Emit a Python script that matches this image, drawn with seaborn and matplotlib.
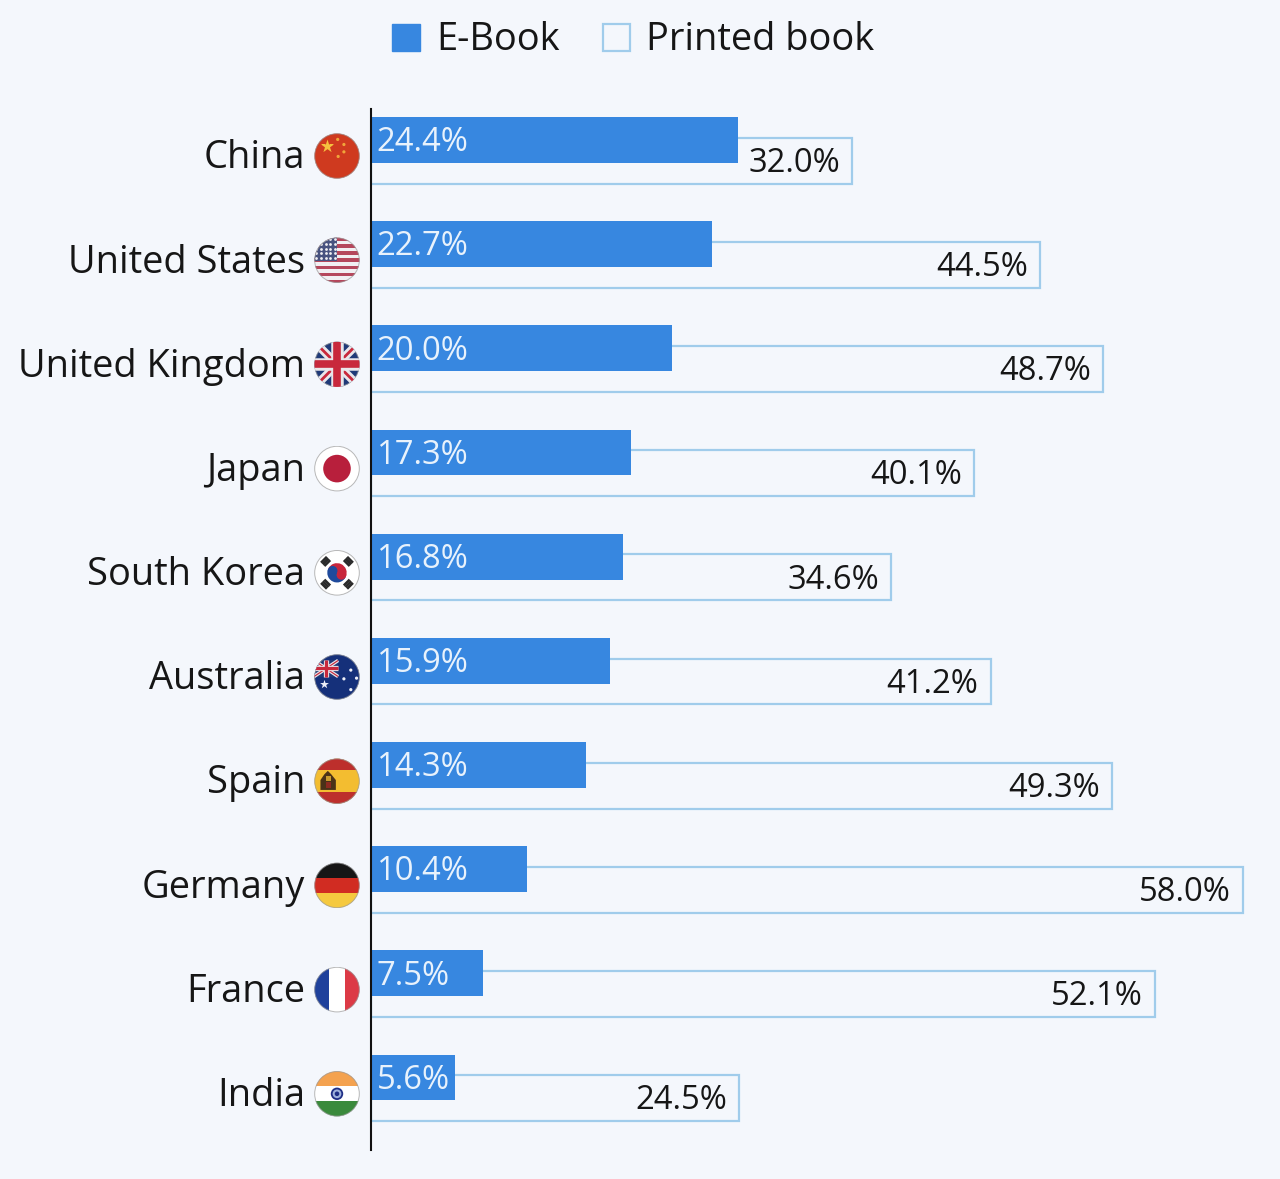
import numpy as np
import pandas as pd
import matplotlib
matplotlib.use("Agg")
import matplotlib.pyplot as plt
from matplotlib.patches import Rectangle, Circle, Wedge, Patch, Polygon
import seaborn as sns

countries = ["China", "United States", "United Kingdom", "Japan", "South Korea",
             "Australia", "Spain", "Germany", "France", "India"]
ebook = [24.4, 22.7, 20.0, 17.3, 16.8, 15.9, 14.3, 10.4, 7.5, 5.6]
printed = [32.0, 44.5, 48.7, 40.1, 34.6, 41.2, 49.3, 58.0, 52.1, 24.5]

BG = "#f4f7fc"
BLUE = "#3787e0"
EDGE = "#a0cceb"
INK = "#161616"
W, H = 1280, 1179

sns.set_theme(style="white", rc={"figure.facecolor": BG, "axes.facecolor": BG,
                                 "savefig.facecolor": BG})
plt.rcParams["font.family"] = ["Open Sans", "DejaVu Sans"]

fig = plt.figure(figsize=(W / 100, H / 100), dpi=100)
top, bottom, left = 109, 1150, 370.5
ax = fig.add_axes([left / W, 1 - bottom / H, (W - left) / W, (bottom - top) / H])

df = pd.DataFrame({"country": countries, "E-Book": ebook, "Printed book": printed})
sns.barplot(data=df, y="country", x="Printed book", orient="y", ax=ax, color=BG,
            saturation=1, width=0.44, edgecolor=EDGE, linewidth=1.6, zorder=2)
sns.barplot(data=df, y="country", x="E-Book", orient="y", ax=ax, color=BLUE,
            saturation=1, width=0.44, linewidth=0, zorder=3)

step = 104.17
shift = 10.3 / step
for bar in ax.containers[0]:
    bar.set_y(bar.get_y() + shift)
for bar in ax.containers[1]:
    bar.set_y(bar.get_y() - shift)

ax.set_xlim(0, (W - left) / 15.05)
ax.set_ylim((bottom - 150.3) / step, (top - 150.3) / step)
ax.set_xlabel("")
ax.set_ylabel("")
ax.set_xticks([])
ax.set_yticks(np.arange(len(countries)) + 0.035, countries)
ax.tick_params(axis="y", length=0, pad=47, labelsize=27.4, labelcolor=INK)
for s in ("top", "right", "bottom"):
    ax.spines[s].set_visible(False)
ax.spines["left"].set_color("#111111")
ax.spines["left"].set_linewidth(1.5)
ax.spines["left"].set_zorder(5)

for i, (e, p) in enumerate(zip(ebook, printed)):
    ax.annotate(f"{e:.1f}%", (0, i - shift), xytext=(4.5, -2), textcoords="offset points",
                ha="left", va="center", fontsize=23.6, color="#e8f2fc", zorder=6)
    ax.annotate(f"{p:.1f}%", (p, i + shift), xytext=(-8.8, -2), textcoords="offset points",
                ha="right", va="center", fontsize=23.6, color=INK, zorder=6)

handles = [Patch(facecolor=BLUE, edgecolor=BLUE, label="E-Book"),
           Patch(facecolor=BG, edgecolor=EDGE, linewidth=1.6, label="Printed book")]
fig.legend(handles=handles, loc="center", bbox_to_anchor=(633.5 / W, 1 - 40.5 / H), ncol=2,
           frameon=False, fontsize=27.4, handlelength=0.73, handleheight=0.73,
           handletextpad=0.42, columnspacing=1.13, borderpad=0, labelcolor=INK)


def rect(a, x0, y0, x1, y1, c):
    a.add_patch(Rectangle((x0, y0), x1 - x0, y1 - y0, color=c, lw=0))


def dot(a, x, y, r, c):
    a.add_patch(Circle((x, y), r, color=c, lw=0))


def union_jack(a, x0, y0, x1, y1, w=1.0):
    rect(a, x0, y0, x1, y1, "#1f3a78")
    for ya, yb in ((y0, y1), (y1, y0)):
        a.plot([x0, x1], [ya, yb], color="#e9e6ea", lw=6 * w, solid_capstyle="butt")
        a.plot([x0, x1], [ya, yb], color="#c8283c", lw=2 * w, solid_capstyle="butt")
    mx, my = (x0 + x1) / 2, (y0 + y1) / 2
    a.plot([x0, x1], [my, my], color="#e9e6ea", lw=9 * w, solid_capstyle="butt")
    a.plot([mx, mx], [y0, y1], color="#e9e6ea", lw=9 * w, solid_capstyle="butt")
    a.plot([x0, x1], [my, my], color="#c8283c", lw=5.5 * w, solid_capstyle="butt")
    a.plot([mx, mx], [y0, y1], color="#c8283c", lw=5.5 * w, solid_capstyle="butt")


def china(a):
    rect(a, -1, -1, 1, 1, "#cf3a1f")
    a.scatter([-0.45], [0.42], marker="*", s=100, color="#f5c23f", lw=0)
    dot(a, 0.03, 0.72, 0.07, "#f0a53a")
    dot(a, 0.3, 0.5, 0.07, "#f0a53a")
    dot(a, 0.3, 0.18, 0.07, "#f0a53a")
    dot(a, 0.05, -0.02, 0.07, "#f0a53a")


def usa(a):
    rect(a, -1, -1, 1, 1, "#f1eff2")
    for k in range(7):
        y = 1 - k * 2 / 6.5
        rect(a, -1, y - 0.154, 1, y, "#b5475c")
    rect(a, -1, -0.02, 0, 1, "#48527f")
    xs, ys = np.meshgrid(np.linspace(-0.9, -0.1, 5), np.linspace(0.1, 0.9, 5))
    a.scatter(xs.ravel(), ys.ravel(), s=4, color="#f1eff2", lw=0)


def uk(a):
    union_jack(a, -1, -1, 1, 1)


def japan(a):
    rect(a, -1, -1, 1, 1, "white")
    dot(a, 0, 0, 0.6, "#b81f3c")


def korea(a):
    rect(a, -1, -1, 1, 1, "white")
    a.add_patch(Wedge((0, 0), 0.42, -25, 155, color="#c8263c", lw=0))
    a.add_patch(Wedge((0, 0), 0.42, 155, 335, color="#1f4a9c", lw=0))
    ca, sa = np.cos(np.radians(-25)), np.sin(np.radians(-25))
    dot(a, 0.21 * ca, 0.21 * sa, 0.21, "#c8263c")
    dot(a, -0.21 * ca, -0.21 * sa, 0.21, "#1f4a9c")
    for ang in (45, 135, 225, 315):
        c, s = np.cos(np.radians(ang)), np.sin(np.radians(ang))
        for r in (0.6, 0.7, 0.8):
            a.plot([r * c - 0.18 * s, r * c + 0.18 * s], [r * s + 0.18 * c, r * s - 0.18 * c],
                   color="#2a2a2a", lw=1.9, solid_capstyle="butt")


def australia(a):
    rect(a, -1, -1, 1, 1, "#15307a")
    union_jack(a, -1, 0.02, 0.05, 0.72, w=0.42)
    a.scatter([-0.55], [-0.32], marker="*", s=45, color="#eef0f8", lw=0)
    dot(a, 0.3, -0.08, 0.07, "#eef0f8")
    dot(a, 0.6, 0.3, 0.07, "#eef0f8")
    dot(a, 0.85, -0.05, 0.07, "#eef0f8")
    dot(a, 0.6, -0.55, 0.07, "#eef0f8")


def spain(a):
    rect(a, -1, -1, 1, 1, "#f3bd30")
    rect(a, -1, 0.48, 1, 1, "#bd2f2c")
    rect(a, -1, -1, 1, -0.48, "#bd2f2c")
    a.add_patch(Polygon([(-0.72, 0.05), (-0.55, 0.3), (-0.4, 0.45), (-0.25, 0.3),
                         (-0.05, 0.05), (-0.05, -0.38), (-0.72, -0.38)],
                        color="#4a3218", lw=0))
    rect(a, -0.5, -0.3, -0.27, -0.02, "#8c2a20")
    rect(a, -0.5, 0.02, -0.27, 0.22, "#c79a2e")


def germany(a):
    rect(a, -1, 0.33, 1, 1, "#161616")
    rect(a, -1, -0.33, 1, 0.33, "#d12c22")
    rect(a, -1, -1, 1, -0.33, "#f5c93f")


def france(a):
    rect(a, -1, -1, -0.33, 1, "#1f419c")
    rect(a, -0.33, -1, 0.33, 1, "white")
    rect(a, 0.33, -1, 1, 1, "#dc3a46")


def india(a):
    rect(a, -1, 0.33, 1, 1, "#f4a24f")
    rect(a, -1, -0.33, 1, 0.33, "white")
    rect(a, -1, -1, 1, -0.33, "#3a8a3c")
    dot(a, 0, 0, 0.27, "#1f2f86")
    dot(a, 0, 0, 0.19, "#9fb2dd")
    dot(a, 0, 0, 0.1, "#1f2f86")


flags = [china, usa, uk, japan, korea, australia, spain, germany, france, india]
R = 23
for i, draw in enumerate(flags):
    cy = 156 + i * 104.2
    fa = fig.add_axes([(337 - R) / W, 1 - (cy + R) / H, 2 * R / W, 2 * R / H])
    fa.set_xlim(-1, 1)
    fa.set_ylim(-1, 1)
    fa.axis("off")
    draw(fa)
    clip = Circle((0, 0), 0.98, transform=fa.transData)
    for art in list(fa.patches) + list(fa.lines) + list(fa.collections):
        art.set_clip_path(clip)
    fa.add_patch(Circle((0, 0), 0.97, fc="none", ec="#9a9a9a", lw=0.7, alpha=0.7))
    fa.set_xlim(-1, 1)
    fa.set_ylim(-1, 1)

fig.savefig("out.png", dpi=100)
